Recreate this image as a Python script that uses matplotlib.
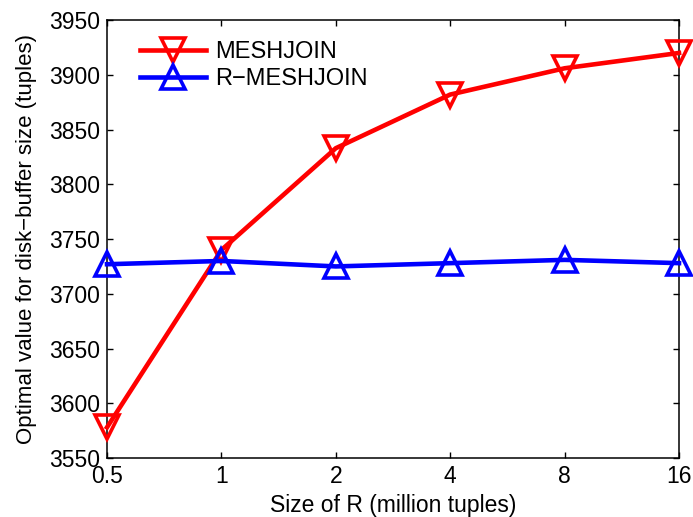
import matplotlib.pyplot as plt

plt.rcParams['font.family'] = ['Liberation Sans', 'DejaVu Sans']

sizes = ['0.5', '1', '2', '4', '8', '16']
meshjoin = [3578, 3740, 3833, 3882, 3906, 3920]
r_meshjoin = [3727, 3730, 3725, 3728, 3731, 3728]

x = range(len(sizes))

fig = plt.figure(figsize=(6.93, 5.17), dpi=100)
ax = fig.add_axes([0.1544, 0.1141, 0.8254, 0.847])

ax.plot(x, meshjoin, color='red', lw=3.3, marker='v', ms=17, mew=2.6,
        mfc='none', label='MESHJOIN', clip_on=False, zorder=3)
ax.plot(x, r_meshjoin, color='blue', lw=3.3, marker='^', ms=17, mew=2.6,
        mfc='none', label='R\u2212MESHJOIN', clip_on=False, zorder=3)

ax.set_xlim(0, len(sizes) - 1)
ax.set_ylim(3550, 3950)
ax.set_xticks(list(x))
ax.set_xticklabels(sizes)
ax.set_yticks(range(3550, 3951, 50))

ax.tick_params(direction='in', top=True, right=True, labelsize=16.5,
               length=4, width=1, pad=5)
for s in ax.spines.values():
    s.set_linewidth(1.1)

ax.set_xlabel('Size of R (million tuples)', fontsize=16.5, labelpad=4)
ax.set_ylabel('Optimal value for disk\u2212buffer size (tuples)', fontsize=16, labelpad=9)

ax.legend(loc='upper left', frameon=False, fontsize=17, handlelength=2.8,
          handletextpad=0.4, borderaxespad=0.5, labelspacing=0.2,
          bbox_to_anchor=(0.02, 1.0))

fig.savefig('out.png', dpi=100)
